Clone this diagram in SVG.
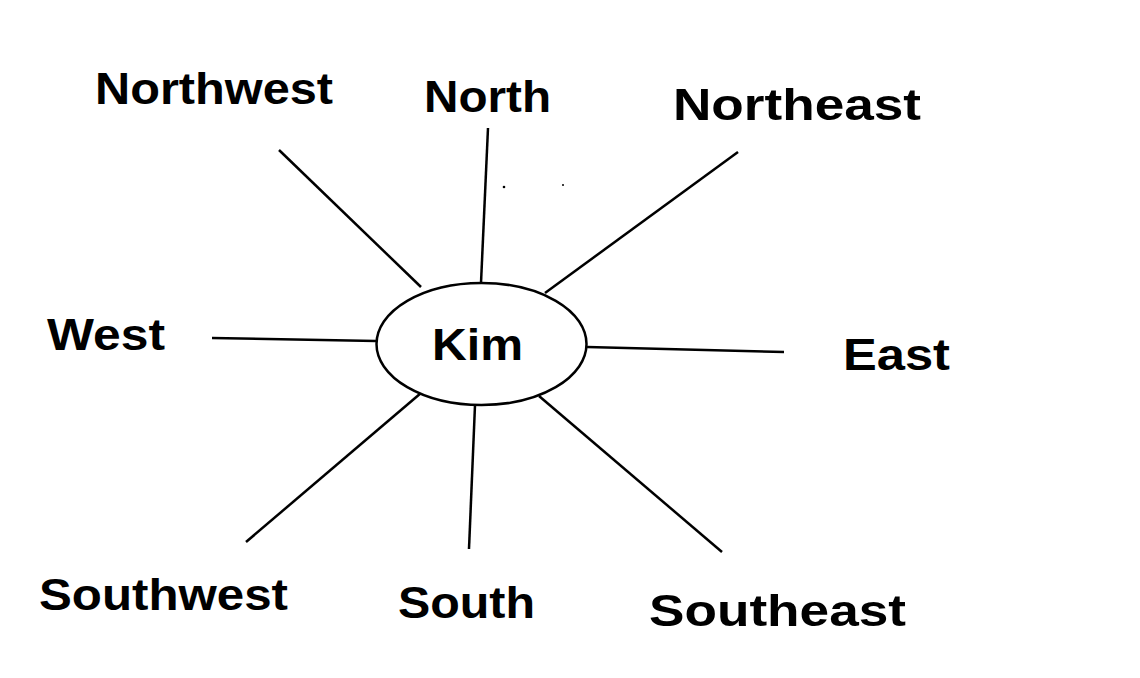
<svg xmlns="http://www.w3.org/2000/svg" width="1140" height="678" viewBox="0 0 1140 678">
<style>
.lbl{font-family:"Liberation Sans",Arial,sans-serif;font-weight:bold;font-size:44px;fill:#000}
.ln{stroke:#000;stroke-width:2.5;fill:none}
</style>
<rect width="1140" height="678" fill="#fff"/>
<g id="connectors">
<line class="ln" x1="279" y1="150" x2="421" y2="287"/>
<line class="ln" x1="488" y1="128" x2="481" y2="283"/>
<line class="ln" x1="738" y1="152" x2="545" y2="293"/>
<line class="ln" x1="212" y1="338" x2="376" y2="341"/>
<line class="ln" x1="587" y1="347" x2="784" y2="352"/>
<line class="ln" x1="246" y1="542" x2="421" y2="393"/>
<line class="ln" x1="475" y1="405" x2="469" y2="549"/>
<line class="ln" x1="539" y1="396" x2="722" y2="552"/>
</g>
<g id="kim">
<ellipse cx="481.5" cy="344" rx="105" ry="61" fill="#fff" stroke="#000" stroke-width="2.5"/>
<text class="lbl" x="432" y="360" textLength="91" lengthAdjust="spacingAndGlyphs">Kim</text>
</g>
<g id="northwest"><text class="lbl" x="95" y="104" textLength="238" lengthAdjust="spacingAndGlyphs">Northwest</text></g>
<g id="north"><text class="lbl" x="424" y="112" textLength="127" lengthAdjust="spacingAndGlyphs">North</text></g>
<g id="northeast"><text class="lbl" x="673" y="120" textLength="248" lengthAdjust="spacingAndGlyphs">Northeast</text></g>
<g id="west"><text class="lbl" x="47" y="350" textLength="118" lengthAdjust="spacingAndGlyphs">West</text></g>
<g id="east"><text class="lbl" x="843" y="370" textLength="107" lengthAdjust="spacingAndGlyphs">East</text></g>
<g id="southwest"><text class="lbl" x="39" y="610" textLength="249" lengthAdjust="spacingAndGlyphs">Southwest</text></g>
<g id="south"><text class="lbl" x="398" y="618" textLength="137" lengthAdjust="spacingAndGlyphs">South</text></g>
<g id="southeast"><text class="lbl" x="649" y="626" textLength="257" lengthAdjust="spacingAndGlyphs">Southeast</text></g>
<circle cx="504" cy="187" r="1.3" fill="#000"/>
<circle cx="563" cy="185" r="1" fill="#000"/>
</svg>
